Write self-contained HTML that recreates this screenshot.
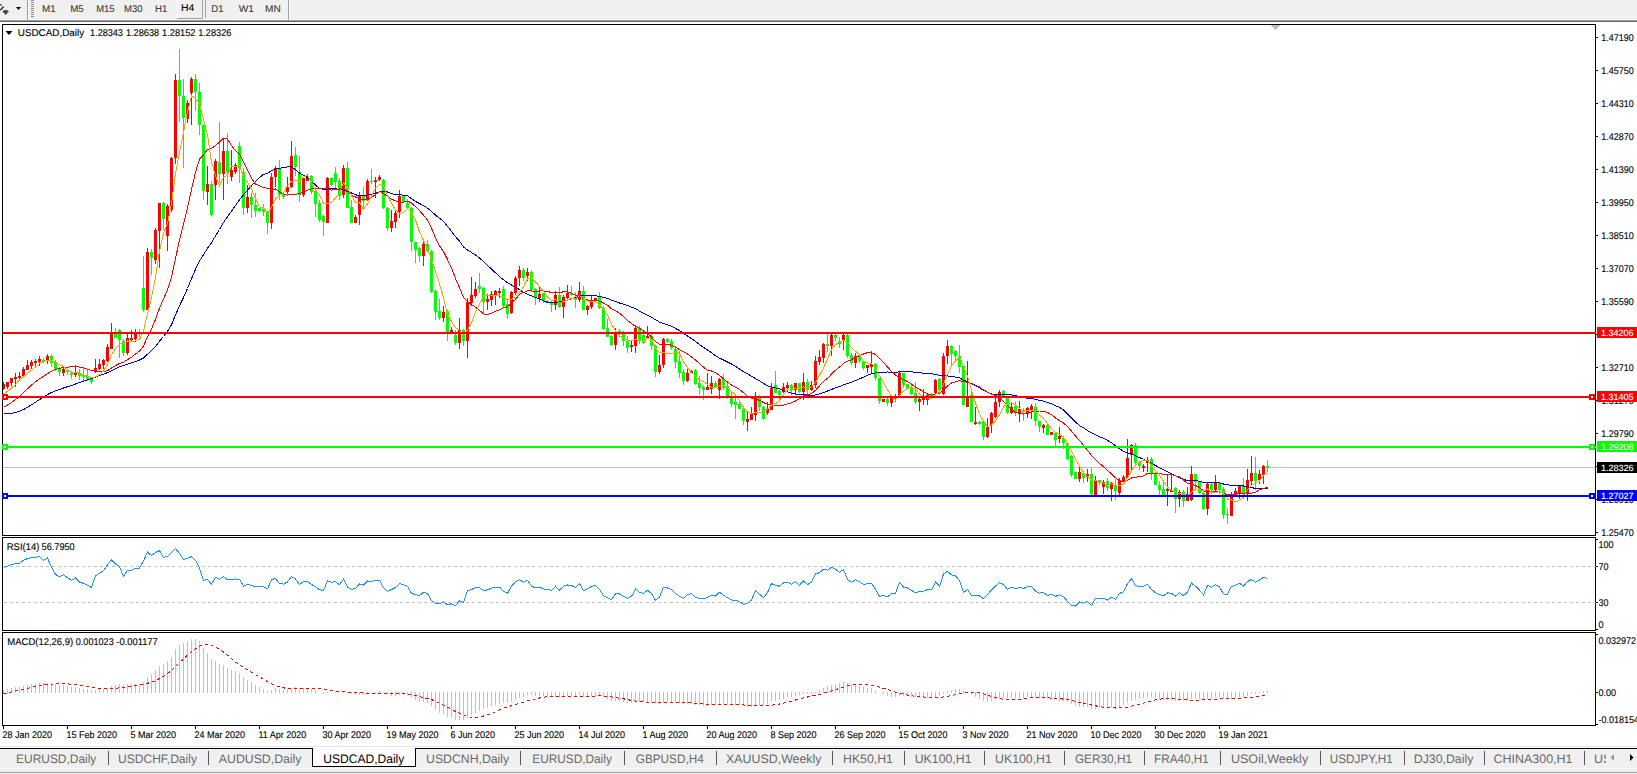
<!DOCTYPE html>
<html><head><meta charset="utf-8"><title>USDCAD,Daily</title>
<style>
html,body{margin:0;padding:0;background:#fff;overflow:hidden;width:1637px;height:774px}
svg{display:block}
text{font-family:"Liberation Sans", Arial, sans-serif;white-space:pre;text-rendering:geometricPrecision}
</style></head><body>
<svg width="1637" height="774" viewBox="0 0 1637 774" shape-rendering="crispEdges">
<rect x="0" y="0" width="1637" height="20" fill="#f0f0f0" />
<line x1="0" y1="19.5" x2="1637" y2="19.5" stroke="#f6f6f6" stroke-width="1" />
<line x1="0" y1="20.5" x2="1637" y2="20.5" stroke="#a0a0a0" stroke-width="1" />
<line x1="0" y1="21.5" x2="1637" y2="21.5" stroke="#646464" stroke-width="1" />
<line x1="27.5" y1="0" x2="27.5" y2="20" stroke="#a0a0a0" stroke-width="1" />
<line x1="28.5" y1="0" x2="28.5" y2="20" stroke="#ffffff" stroke-width="1" />
<line x1="31" y1="0.5" x2="34" y2="0.5" stroke="#8c8c8c" stroke-width="1" />
<line x1="31" y1="2.5" x2="34" y2="2.5" stroke="#8c8c8c" stroke-width="1" />
<line x1="31" y1="4.5" x2="34" y2="4.5" stroke="#8c8c8c" stroke-width="1" />
<line x1="31" y1="6.5" x2="34" y2="6.5" stroke="#8c8c8c" stroke-width="1" />
<line x1="31" y1="8.5" x2="34" y2="8.5" stroke="#8c8c8c" stroke-width="1" />
<line x1="31" y1="10.5" x2="34" y2="10.5" stroke="#8c8c8c" stroke-width="1" />
<line x1="31" y1="12.5" x2="34" y2="12.5" stroke="#8c8c8c" stroke-width="1" />
<line x1="31" y1="14.5" x2="34" y2="14.5" stroke="#8c8c8c" stroke-width="1" />
<line x1="31" y1="16.5" x2="34" y2="16.5" stroke="#8c8c8c" stroke-width="1" />
<g shape-rendering="auto">
<path d="M0 4 L1.6 4.2 L2 5.6 L0 5.6 Z" fill="#404040"/>
<path d="M3.6 6.4 L0.3 10.2" stroke="#404040" stroke-width="1.6" fill="none"/>
<path d="M2.3 11.2 L4.5 10.1 L6.8 10.1 L9 11.2 L5.6 15 Z" fill="#4a4a4a"/>
<path d="M16 7 L21 7 L18.5 10 Z" fill="#000"/>
</g>
<line x1="202.5" y1="0" x2="202.5" y2="19" stroke="#a0a0a0" stroke-width="1" />
<line x1="177" y1="18.5" x2="203" y2="18.5" stroke="#a0a0a0" stroke-width="1" />
<line x1="177.5" y1="0" x2="177.5" y2="18" stroke="#ffffff" stroke-width="1" />
<defs><pattern id="dith" width="2" height="2" patternUnits="userSpaceOnUse"><rect width="2" height="2" fill="#f7f7f7"/><rect width="1" height="1" fill="#e6e6e6"/><rect x="1" y="1" width="1" height="1" fill="#e6e6e6"/></pattern></defs>
<rect x="206" y="0" width="24" height="18" fill="url(#dith)" />
<line x1="205.5" y1="0" x2="205.5" y2="18" stroke="#a0a0a0" stroke-width="1" />
<line x1="288.5" y1="0" x2="288.5" y2="20" stroke="#a0a0a0" stroke-width="1" />
<line x1="289.5" y1="0" x2="289.5" y2="20" stroke="#ffffff" stroke-width="1" />
<text x="42.1" y="12" font-size="9.8" fill="#3c3c3c"  stroke="#3c3c3c" stroke-width="0.12" textLength="13.60" lengthAdjust="spacingAndGlyphs" >M1</text>
<text x="70.2" y="12" font-size="9.8" fill="#3c3c3c"  stroke="#3c3c3c" stroke-width="0.12" textLength="13.50" lengthAdjust="spacingAndGlyphs" >M5</text>
<text x="96.2" y="12" font-size="9.8" fill="#3c3c3c"  stroke="#3c3c3c" stroke-width="0.12" textLength="18.40" lengthAdjust="spacingAndGlyphs" >M15</text>
<text x="124.1" y="12" font-size="9.8" fill="#3c3c3c"  stroke="#3c3c3c" stroke-width="0.12" textLength="18.40" lengthAdjust="spacingAndGlyphs" >M30</text>
<text x="155.1" y="12" font-size="9.8" fill="#3c3c3c"  stroke="#3c3c3c" stroke-width="0.12" textLength="12.30" lengthAdjust="spacingAndGlyphs" >H1</text>
<text x="181.0" y="11" font-size="9.8" fill="#000"  stroke="#000" stroke-width="0.12" textLength="13.30" lengthAdjust="spacingAndGlyphs" >H4</text>
<text x="211.3" y="12" font-size="9.8" fill="#3c3c3c"  stroke="#3c3c3c" stroke-width="0.12" textLength="12.20" lengthAdjust="spacingAndGlyphs" >D1</text>
<text x="238.7" y="12" font-size="9.8" fill="#3c3c3c"  stroke="#3c3c3c" stroke-width="0.12" textLength="15.20" lengthAdjust="spacingAndGlyphs" >W1</text>
<text x="265.1" y="12" font-size="9.8" fill="#3c3c3c"  stroke="#3c3c3c" stroke-width="0.12" textLength="15.70" lengthAdjust="spacingAndGlyphs" >MN</text>
<rect x="2.5" y="24.5" width="1593" height="511" fill="none" stroke="#000" stroke-width="1"/>
<rect x="2.5" y="537.5" width="1593" height="93" fill="none" stroke="#000" stroke-width="1"/>
<rect x="2.5" y="632.5" width="1593" height="93" fill="none" stroke="#000" stroke-width="1"/>
<line x1="1596" y1="37.5" x2="1598" y2="37.5" stroke="#000" stroke-width="1" />
<text x="1601.3" y="41" font-size="9.8" fill="#000"  stroke="#000" stroke-width="0.12" textLength="32.40" lengthAdjust="spacingAndGlyphs" >1.47190</text>
<line x1="1596" y1="70.5" x2="1598" y2="70.5" stroke="#000" stroke-width="1" />
<text x="1601.3" y="74" font-size="9.8" fill="#000"  stroke="#000" stroke-width="0.12" textLength="32.40" lengthAdjust="spacingAndGlyphs" >1.45750</text>
<line x1="1596" y1="103.5" x2="1598" y2="103.5" stroke="#000" stroke-width="1" />
<text x="1601.3" y="107" font-size="9.8" fill="#000"  stroke="#000" stroke-width="0.12" textLength="32.40" lengthAdjust="spacingAndGlyphs" >1.44310</text>
<line x1="1596" y1="136.5" x2="1598" y2="136.5" stroke="#000" stroke-width="1" />
<text x="1601.3" y="140" font-size="9.8" fill="#000"  stroke="#000" stroke-width="0.12" textLength="32.40" lengthAdjust="spacingAndGlyphs" >1.42870</text>
<line x1="1596" y1="169.5" x2="1598" y2="169.5" stroke="#000" stroke-width="1" />
<text x="1601.3" y="173" font-size="9.8" fill="#000"  stroke="#000" stroke-width="0.12" textLength="32.40" lengthAdjust="spacingAndGlyphs" >1.41390</text>
<line x1="1596" y1="202.5" x2="1598" y2="202.5" stroke="#000" stroke-width="1" />
<text x="1601.3" y="206" font-size="9.8" fill="#000"  stroke="#000" stroke-width="0.12" textLength="32.40" lengthAdjust="spacingAndGlyphs" >1.39950</text>
<line x1="1596" y1="235.5" x2="1598" y2="235.5" stroke="#000" stroke-width="1" />
<text x="1601.3" y="239" font-size="9.8" fill="#000"  stroke="#000" stroke-width="0.12" textLength="32.40" lengthAdjust="spacingAndGlyphs" >1.38510</text>
<line x1="1596" y1="268.5" x2="1598" y2="268.5" stroke="#000" stroke-width="1" />
<text x="1601.3" y="272" font-size="9.8" fill="#000"  stroke="#000" stroke-width="0.12" textLength="32.40" lengthAdjust="spacingAndGlyphs" >1.37070</text>
<line x1="1596" y1="301.5" x2="1598" y2="301.5" stroke="#000" stroke-width="1" />
<text x="1601.3" y="305" font-size="9.8" fill="#000"  stroke="#000" stroke-width="0.12" textLength="32.40" lengthAdjust="spacingAndGlyphs" >1.35590</text>
<line x1="1596" y1="334.5" x2="1598" y2="334.5" stroke="#000" stroke-width="1" />
<text x="1601.3" y="338" font-size="9.8" fill="#000"  stroke="#000" stroke-width="0.12" textLength="32.40" lengthAdjust="spacingAndGlyphs" >1.34150</text>
<line x1="1596" y1="367.5" x2="1598" y2="367.5" stroke="#000" stroke-width="1" />
<text x="1601.3" y="371" font-size="9.8" fill="#000"  stroke="#000" stroke-width="0.12" textLength="32.40" lengthAdjust="spacingAndGlyphs" >1.32710</text>
<line x1="1596" y1="400.5" x2="1598" y2="400.5" stroke="#000" stroke-width="1" />
<text x="1601.3" y="404" font-size="9.8" fill="#000"  stroke="#000" stroke-width="0.12" textLength="32.40" lengthAdjust="spacingAndGlyphs" >1.31270</text>
<line x1="1596" y1="433.5" x2="1598" y2="433.5" stroke="#000" stroke-width="1" />
<text x="1601.3" y="437" font-size="9.8" fill="#000"  stroke="#000" stroke-width="0.12" textLength="32.40" lengthAdjust="spacingAndGlyphs" >1.29790</text>
<line x1="1596" y1="466.5" x2="1598" y2="466.5" stroke="#000" stroke-width="1" />
<text x="1601.3" y="470" font-size="9.8" fill="#000"  stroke="#000" stroke-width="0.12" textLength="32.40" lengthAdjust="spacingAndGlyphs" >1.28350</text>
<line x1="1596" y1="499.5" x2="1598" y2="499.5" stroke="#000" stroke-width="1" />
<text x="1601.3" y="503" font-size="9.8" fill="#000"  stroke="#000" stroke-width="0.12" textLength="32.40" lengthAdjust="spacingAndGlyphs" >1.26910</text>
<line x1="1596" y1="532.5" x2="1598" y2="532.5" stroke="#000" stroke-width="1" />
<text x="1601.3" y="536" font-size="9.8" fill="#000"  stroke="#000" stroke-width="0.12" textLength="32.40" lengthAdjust="spacingAndGlyphs" >1.25470</text>
<line x1="3.5" y1="726" x2="3.5" y2="729" stroke="#000" stroke-width="1" />
<text x="2.5" y="738" font-size="9.8" fill="#000"  stroke="#000" stroke-width="0.12" textLength="49.54" lengthAdjust="spacingAndGlyphs" >28 Jan 2020</text>
<line x1="67.5" y1="726" x2="67.5" y2="729" stroke="#000" stroke-width="1" />
<text x="66.5" y="738" font-size="9.8" fill="#000"  stroke="#000" stroke-width="0.12" textLength="50.53" lengthAdjust="spacingAndGlyphs" >15 Feb 2020</text>
<line x1="131.5" y1="726" x2="131.5" y2="729" stroke="#000" stroke-width="1" />
<text x="130.5" y="738" font-size="9.8" fill="#000"  stroke="#000" stroke-width="0.12" textLength="45.52" lengthAdjust="spacingAndGlyphs" >5 Mar 2020</text>
<line x1="195.5" y1="726" x2="195.5" y2="729" stroke="#000" stroke-width="1" />
<text x="194.5" y="738" font-size="9.8" fill="#000"  stroke="#000" stroke-width="0.12" textLength="50.53" lengthAdjust="spacingAndGlyphs" >24 Mar 2020</text>
<line x1="259.5" y1="726" x2="259.5" y2="729" stroke="#000" stroke-width="1" />
<text x="258.5" y="738" font-size="9.8" fill="#000"  stroke="#000" stroke-width="0.12" textLength="47.87" lengthAdjust="spacingAndGlyphs" >11 Apr 2020</text>
<line x1="323.5" y1="726" x2="323.5" y2="729" stroke="#000" stroke-width="1" />
<text x="322.5" y="738" font-size="9.8" fill="#000"  stroke="#000" stroke-width="0.12" textLength="48.54" lengthAdjust="spacingAndGlyphs" >30 Apr 2020</text>
<line x1="387.5" y1="726" x2="387.5" y2="729" stroke="#000" stroke-width="1" />
<text x="386.5" y="738" font-size="9.8" fill="#000"  stroke="#000" stroke-width="0.12" textLength="52.03" lengthAdjust="spacingAndGlyphs" >19 May 2020</text>
<line x1="451.5" y1="726" x2="451.5" y2="729" stroke="#000" stroke-width="1" />
<text x="450.5" y="738" font-size="9.8" fill="#000"  stroke="#000" stroke-width="0.12" textLength="44.53" lengthAdjust="spacingAndGlyphs" >6 Jun 2020</text>
<line x1="515.5" y1="726" x2="515.5" y2="729" stroke="#000" stroke-width="1" />
<text x="514.5" y="738" font-size="9.8" fill="#000"  stroke="#000" stroke-width="0.12" textLength="49.54" lengthAdjust="spacingAndGlyphs" >25 Jun 2020</text>
<line x1="579.5" y1="726" x2="579.5" y2="729" stroke="#000" stroke-width="1" />
<text x="578.5" y="738" font-size="9.8" fill="#000"  stroke="#000" stroke-width="0.12" textLength="46.53" lengthAdjust="spacingAndGlyphs" >14 Jul 2020</text>
<line x1="643.5" y1="726" x2="643.5" y2="729" stroke="#000" stroke-width="1" />
<text x="642.5" y="738" font-size="9.8" fill="#000"  stroke="#000" stroke-width="0.12" textLength="45.54" lengthAdjust="spacingAndGlyphs" >1 Aug 2020</text>
<line x1="707.5" y1="726" x2="707.5" y2="729" stroke="#000" stroke-width="1" />
<text x="706.5" y="738" font-size="9.8" fill="#000"  stroke="#000" stroke-width="0.12" textLength="50.54" lengthAdjust="spacingAndGlyphs" >20 Aug 2020</text>
<line x1="771.5" y1="726" x2="771.5" y2="729" stroke="#000" stroke-width="1" />
<text x="770.5" y="738" font-size="9.8" fill="#000"  stroke="#000" stroke-width="0.12" textLength="46.04" lengthAdjust="spacingAndGlyphs" >8 Sep 2020</text>
<line x1="835.5" y1="726" x2="835.5" y2="729" stroke="#000" stroke-width="1" />
<text x="834.5" y="738" font-size="9.8" fill="#000"  stroke="#000" stroke-width="0.12" textLength="51.04" lengthAdjust="spacingAndGlyphs" >26 Sep 2020</text>
<line x1="899.5" y1="726" x2="899.5" y2="729" stroke="#000" stroke-width="1" />
<text x="898.5" y="738" font-size="9.8" fill="#000"  stroke="#000" stroke-width="0.12" textLength="49.03" lengthAdjust="spacingAndGlyphs" >15 Oct 2020</text>
<line x1="963.5" y1="726" x2="963.5" y2="729" stroke="#000" stroke-width="1" />
<text x="962.5" y="738" font-size="9.8" fill="#000"  stroke="#000" stroke-width="0.12" textLength="46.03" lengthAdjust="spacingAndGlyphs" >3 Nov 2020</text>
<line x1="1027.5" y1="726" x2="1027.5" y2="729" stroke="#000" stroke-width="1" />
<text x="1026.5" y="738" font-size="9.8" fill="#000"  stroke="#000" stroke-width="0.12" textLength="51.03" lengthAdjust="spacingAndGlyphs" >21 Nov 2020</text>
<line x1="1091.5" y1="726" x2="1091.5" y2="729" stroke="#000" stroke-width="1" />
<text x="1090.5" y="738" font-size="9.8" fill="#000"  stroke="#000" stroke-width="0.12" textLength="51.03" lengthAdjust="spacingAndGlyphs" >10 Dec 2020</text>
<line x1="1155.5" y1="726" x2="1155.5" y2="729" stroke="#000" stroke-width="1" />
<text x="1154.5" y="738" font-size="9.8" fill="#000"  stroke="#000" stroke-width="0.12" textLength="51.03" lengthAdjust="spacingAndGlyphs" >30 Dec 2020</text>
<line x1="1219.5" y1="726" x2="1219.5" y2="729" stroke="#000" stroke-width="1" />
<text x="1218.5" y="738" font-size="9.8" fill="#000"  stroke="#000" stroke-width="0.12" textLength="49.54" lengthAdjust="spacingAndGlyphs" >19 Jan 2021</text>
<line x1="1596" y1="539.5" x2="1598" y2="539.5" stroke="#000" stroke-width="1" />
<text x="1598.5" y="548" font-size="9.8" fill="#000"  stroke="#000" stroke-width="0.12" textLength="15.01" lengthAdjust="spacingAndGlyphs" >100</text>
<line x1="4" y1="566.5" x2="1596" y2="566.5" stroke="#c0c0c0" stroke-width="1" stroke-dasharray="3,3"/>
<line x1="1596" y1="566.5" x2="1598" y2="566.5" stroke="#000" stroke-width="1" />
<text x="1598.5" y="570" font-size="9.8" fill="#000"  stroke="#000" stroke-width="0.12" textLength="10.01" lengthAdjust="spacingAndGlyphs" >70</text>
<line x1="4" y1="602.5" x2="1596" y2="602.5" stroke="#c0c0c0" stroke-width="1" stroke-dasharray="3,3"/>
<line x1="1596" y1="602.5" x2="1598" y2="602.5" stroke="#000" stroke-width="1" />
<text x="1598.5" y="606" font-size="9.8" fill="#000"  stroke="#000" stroke-width="0.12" textLength="10.01" lengthAdjust="spacingAndGlyphs" >30</text>
<line x1="1596" y1="629.5" x2="1598" y2="629.5" stroke="#000" stroke-width="1" />
<text x="1598.5" y="627.5" font-size="9.8" fill="#000"  stroke="#000" stroke-width="0.12" textLength="5.00" lengthAdjust="spacingAndGlyphs" >0</text>
<line x1="1596" y1="634.5" x2="1598" y2="634.5" stroke="#000" stroke-width="1" />
<text x="1598.5" y="643.5" font-size="9.8" fill="#000"  stroke="#000" stroke-width="0.12" textLength="37.53" lengthAdjust="spacingAndGlyphs" >0.032972</text>
<line x1="1596" y1="692.5" x2="1598" y2="692.5" stroke="#000" stroke-width="1" />
<text x="1598.5" y="696" font-size="9.8" fill="#000"  stroke="#000" stroke-width="0.12" textLength="17.51" lengthAdjust="spacingAndGlyphs" >0.00</text>
<line x1="1596" y1="724.5" x2="1598" y2="724.5" stroke="#000" stroke-width="1" />
<text x="1598.5" y="722.5" font-size="9.8" fill="#000"  stroke="#000" stroke-width="0.12" textLength="40.53" lengthAdjust="spacingAndGlyphs" >-0.018154</text>
<path d="M5.5 31 L12.5 31 L9 35 Z" fill="#000" shape-rendering="auto"/>
<text x="17.8" y="36" font-size="9.8" fill="#000"  stroke="#000" stroke-width="0.12" textLength="66.30" lengthAdjust="spacingAndGlyphs" >USDCAD,Daily</text>
<text x="90.1" y="36" font-size="9.8" fill="#000"  stroke="#000" stroke-width="0.12" textLength="32.80" lengthAdjust="spacingAndGlyphs" >1.28343</text>
<text x="125.9" y="36" font-size="9.8" fill="#000"  stroke="#000" stroke-width="0.12" textLength="33.30" lengthAdjust="spacingAndGlyphs" >1.28638</text>
<text x="162.0" y="36" font-size="9.8" fill="#000"  stroke="#000" stroke-width="0.12" textLength="33.50" lengthAdjust="spacingAndGlyphs" >1.28152</text>
<text x="198.2" y="36" font-size="9.8" fill="#000"  stroke="#000" stroke-width="0.12" textLength="33.30" lengthAdjust="spacingAndGlyphs" >1.28326</text>
<text x="6.8" y="550" font-size="9.8" fill="#000"  stroke="#000" stroke-width="0.12" textLength="32.50" lengthAdjust="spacingAndGlyphs" >RSI(14)</text>
<text x="41.6" y="550" font-size="9.8" fill="#000"  stroke="#000" stroke-width="0.12" textLength="33.10" lengthAdjust="spacingAndGlyphs" >56.7950</text>
<text x="7.3" y="645" font-size="9.8" fill="#000"  stroke="#000" stroke-width="0.12" textLength="65.90" lengthAdjust="spacingAndGlyphs" >MACD(12,26,9)</text>
<text x="75.8" y="645" font-size="9.8" fill="#000"  stroke="#000" stroke-width="0.12" textLength="37.90" lengthAdjust="spacingAndGlyphs" >0.001023</text>
<text x="116.3" y="645" font-size="9.8" fill="#000"  stroke="#000" stroke-width="0.12" textLength="41.50" lengthAdjust="spacingAndGlyphs" >-0.001177</text>
<line x1="0" y1="746.5" x2="1637" y2="746.5" stroke="#e3e3e3" stroke-width="1" />
<rect x="0" y="749" width="1637" height="19" fill="#f0f0f0" />
<line x1="0" y1="748.5" x2="1637" y2="748.5" stroke="#000" stroke-width="1" />
<line x1="0" y1="768.5" x2="1637" y2="768.5" stroke="#fafafa" stroke-width="1" />
<rect x="0" y="769" width="1637" height="3" fill="#f0f0f0" />
<line x1="0" y1="772.5" x2="1637" y2="772.5" stroke="#a0a0a0" stroke-width="1" />
<line x1="0" y1="773.5" x2="1637" y2="773.5" stroke="#f0f0f0" stroke-width="1" />
<rect x="313" y="748" width="102" height="18" fill="#ffffff" />
<line x1="312.5" y1="748" x2="312.5" y2="767" stroke="#000" stroke-width="1" />
<line x1="415.5" y1="748" x2="415.5" y2="767" stroke="#000" stroke-width="1" />
<line x1="312" y1="766.5" x2="416" y2="766.5" stroke="#000" stroke-width="1" />
<text x="16.1" y="763" font-size="12.4" fill="#696969"  textLength="80.20" lengthAdjust="spacingAndGlyphs" >EURUSD,Daily</text>
<text x="118.1" y="763" font-size="12.4" fill="#696969"  textLength="78.80" lengthAdjust="spacingAndGlyphs" >USDCHF,Daily</text>
<text x="218.8" y="763" font-size="12.4" fill="#696969"  textLength="82.70" lengthAdjust="spacingAndGlyphs" >AUDUSD,Daily</text>
<text x="323.3" y="763" font-size="12.4" fill="#000"  textLength="81.00" lengthAdjust="spacingAndGlyphs" >USDCAD,Daily</text>
<text x="426.1" y="763" font-size="12.4" fill="#696969"  textLength="83.10" lengthAdjust="spacingAndGlyphs" >USDCNH,Daily</text>
<text x="532.3" y="763" font-size="12.4" fill="#696969"  textLength="79.50" lengthAdjust="spacingAndGlyphs" >EURUSD,Daily</text>
<text x="635.8" y="763" font-size="12.4" fill="#696969"  textLength="67.90" lengthAdjust="spacingAndGlyphs" >GBPUSD,H4</text>
<text x="726.1" y="763" font-size="12.4" fill="#696969"  textLength="95.40" lengthAdjust="spacingAndGlyphs" >XAUUSD,Weekly</text>
<text x="843.0" y="763" font-size="12.4" fill="#696969"  textLength="49.90" lengthAdjust="spacingAndGlyphs" >HK50,H1</text>
<text x="914.7" y="763" font-size="12.4" fill="#696969"  textLength="56.80" lengthAdjust="spacingAndGlyphs" >UK100,H1</text>
<text x="995.1" y="763" font-size="12.4" fill="#696969"  textLength="56.70" lengthAdjust="spacingAndGlyphs" >UK100,H1</text>
<text x="1074.9" y="763" font-size="12.4" fill="#696969"  textLength="57.10" lengthAdjust="spacingAndGlyphs" >GER30,H1</text>
<text x="1154.0" y="763" font-size="12.4" fill="#696969"  textLength="54.80" lengthAdjust="spacingAndGlyphs" >FRA40,H1</text>
<text x="1230.9" y="763" font-size="12.4" fill="#696969"  textLength="77.30" lengthAdjust="spacingAndGlyphs" >USOil,Weekly</text>
<text x="1329.8" y="763" font-size="12.4" fill="#696969"  textLength="63.00" lengthAdjust="spacingAndGlyphs" >USDJPY,H1</text>
<text x="1413.8" y="763" font-size="12.4" fill="#696969"  textLength="59.50" lengthAdjust="spacingAndGlyphs" >DJ30,Daily</text>
<text x="1493.5" y="763" font-size="12.4" fill="#696969"  textLength="79.00" lengthAdjust="spacingAndGlyphs" >CHINA300,H1</text>
<line x1="108.5" y1="751" x2="108.5" y2="765" stroke="#5a5a5a" stroke-width="1" />
<line x1="208.5" y1="751" x2="208.5" y2="765" stroke="#5a5a5a" stroke-width="1" />
<line x1="520.5" y1="751" x2="520.5" y2="765" stroke="#5a5a5a" stroke-width="1" />
<line x1="624.5" y1="751" x2="624.5" y2="765" stroke="#5a5a5a" stroke-width="1" />
<line x1="716.5" y1="751" x2="716.5" y2="765" stroke="#5a5a5a" stroke-width="1" />
<line x1="832.5" y1="751" x2="832.5" y2="765" stroke="#5a5a5a" stroke-width="1" />
<line x1="904.5" y1="751" x2="904.5" y2="765" stroke="#5a5a5a" stroke-width="1" />
<line x1="984.5" y1="751" x2="984.5" y2="765" stroke="#5a5a5a" stroke-width="1" />
<line x1="1064.5" y1="751" x2="1064.5" y2="765" stroke="#5a5a5a" stroke-width="1" />
<line x1="1144.5" y1="751" x2="1144.5" y2="765" stroke="#5a5a5a" stroke-width="1" />
<line x1="1220.5" y1="751" x2="1220.5" y2="765" stroke="#5a5a5a" stroke-width="1" />
<line x1="1320.5" y1="751" x2="1320.5" y2="765" stroke="#5a5a5a" stroke-width="1" />
<line x1="1404.5" y1="751" x2="1404.5" y2="765" stroke="#5a5a5a" stroke-width="1" />
<line x1="1484.5" y1="751" x2="1484.5" y2="765" stroke="#5a5a5a" stroke-width="1" />
<line x1="1584.5" y1="751" x2="1584.5" y2="765" stroke="#5a5a5a" stroke-width="1" />
<svg x="1594" y="749" width="12" height="18"><text x="0" y="14" font-size="12.4" fill="#696969">US</text></svg>
<path d="M1614 754 L1610.5 757.5 L1614 761 Z" fill="#9a9a9a" shape-rendering="auto"/>
<path d="M1630 754 L1633.5 757.5 L1630 761 Z" fill="#000" shape-rendering="auto"/>
<rect x="1271" y="25" width="9" height="1" fill="#c0c0c0" />
<rect x="1272" y="26" width="7" height="1" fill="#c0c0c0" />
<rect x="1273" y="27" width="5" height="1" fill="#c0c0c0" />
<rect x="1274" y="28" width="3" height="1" fill="#c0c0c0" />
<rect x="1275" y="29" width="1" height="1" fill="#c0c0c0" />
<defs><clipPath id="cm"><rect x="3" y="25" width="1592" height="510"/></clipPath><clipPath id="cr"><rect x="3" y="538" width="1592" height="92"/></clipPath><clipPath id="cd"><rect x="3" y="633" width="1592" height="92"/></clipPath></defs>
<line x1="3" y1="467.5" x2="1595" y2="467.5" stroke="#c0c0c0" stroke-width="1" />
<g clip-path="url(#cm)">
<path d="M3 382h1v8h-1z M2 384h3v5h-3z M7 382h1v7h-1z M6 382h3v5h-3z M11 378h1v8h-1z M10 378h3v5h-3z M15 373h1v14h-1z M14 377h3v2h-3z M19 372h1v8h-1z M18 376h3v2h-3z M23 367h1v10h-1z M22 369h3v7h-3z M27 360h1v10h-1z M26 365h3v5h-3z M31 360h1v9h-1z M30 362h3v4h-3z M35 359h1v8h-1z M34 361h3v2h-3z M39 356h1v10h-1z M38 359h3v3h-3z M47 354h1v10h-1z M46 356h3v4h-3z M63 367h1v9h-1z M62 369h3v4h-3z M75 365h1v12h-1z M74 372h3v3h-3z M95 359h1v14h-1z M94 368h3v4h-3z M99 359h1v11h-1z M98 364h3v5h-3z M103 359h1v10h-1z M102 360h3v5h-3z M107 344h1v18h-1z M106 347h3v14h-3z M111 323h1v26h-1z M110 333h3v16h-3z M127 333h1v22h-1z M126 338h3v15h-3z M131 330h1v12h-1z M130 338h3v2h-3z M135 329h1v13h-1z M134 333h3v6h-3z M147 248h1v62h-1z M146 252h3v58h-3z M155 228h1v36h-1z M154 230h3v30h-3z M159 203h1v65h-1z M158 203h3v28h-3z M167 204h1v47h-1z M166 206h3v30h-3z M171 157h1v55h-1z M170 158h3v52h-3z M175 74h1v90h-1z M174 80h3v78h-3z M187 100h1v23h-1z M186 103h3v16h-3z M191 77h1v48h-1z M190 79h3v14h-3z M207 166h1v39h-1z M206 184h3v8h-3z M215 159h1v41h-1z M214 161h3v24h-3z M223 139h1v61h-1z M222 151h3v23h-3z M231 150h1v31h-1z M230 170h3v7h-3z M235 163h1v11h-1z M234 165h3v7h-3z M247 185h1v28h-1z M246 197h3v11h-3z M271 173h1v56h-1z M270 177h3v46h-3z M275 166h1v21h-1z M274 168h3v9h-3z M287 177h1v17h-1z M286 187h3v5h-3z M291 141h1v47h-1z M290 156h3v31h-3z M303 177h1v20h-1z M302 178h3v17h-3z M307 174h1v7h-1z M306 177h3v4h-3z M327 177h1v46h-1z M326 178h3v45h-3z M343 165h1v33h-1z M342 168h3v27h-3z M355 215h1v8h-1z M354 217h3v6h-3z M359 192h1v33h-1z M358 196h3v19h-3z M367 179h1v22h-1z M366 181h3v19h-3z M375 177h1v21h-1z M374 180h3v2h-3z M379 175h1v6h-1z M378 177h3v3h-3z M391 210h1v22h-1z M390 221h3v7h-3z M395 209h1v19h-1z M394 213h3v9h-3z M399 190h1v28h-1z M398 196h3v16h-3z M423 242h1v24h-1z M422 244h3v12h-3z M443 306h1v16h-1z M442 312h3v6h-3z M451 327h1v7h-1z M450 330h3v3h-3z M459 318h1v31h-1z M458 330h3v13h-3z M467 298h1v60h-1z M466 302h3v39h-3z M471 277h1v29h-1z M470 295h3v8h-3z M475 282h1v16h-1z M474 289h3v7h-3z M487 294h1v16h-1z M486 299h3v3h-3z M491 291h1v15h-1z M490 294h3v6h-3z M495 290h1v15h-1z M494 291h3v4h-3z M499 288h1v10h-1z M498 291h3v2h-3z M511 291h1v23h-1z M510 292h3v21h-3z M515 276h1v19h-1z M514 278h3v15h-3z M519 266h1v20h-1z M518 270h3v8h-3z M527 268h1v13h-1z M526 272h3v4h-3z M539 287h1v15h-1z M538 294h3v4h-3z M555 291h1v19h-1z M554 295h3v10h-3z M563 295h1v23h-1z M562 297h3v10h-3z M567 285h1v16h-1z M566 293h3v5h-3z M579 282h1v20h-1z M578 291h3v9h-3z M587 305h1v10h-1z M586 306h3v4h-3z M591 296h1v13h-1z M590 301h3v6h-3z M595 298h1v4h-1z M594 298h3v3h-3z M615 328h1v22h-1z M614 332h3v13h-3z M631 341h1v11h-1z M630 345h3v2h-3z M635 325h1v28h-1z M634 328h3v18h-3z M647 326h1v12h-1z M646 336h3v2h-3z M659 355h1v19h-1z M658 365h3v7h-3z M663 338h1v30h-1z M662 339h3v26h-3z M687 368h1v14h-1z M686 373h3v8h-3z M691 370h1v3h-1z M690 371h3v2h-3z M707 373h1v17h-1z M706 387h3v3h-3z M711 376h1v18h-1z M710 383h3v6h-3z M719 378h1v21h-1z M718 379h3v11h-3z M747 412h1v19h-1z M746 419h3v3h-3z M751 407h1v13h-1z M750 414h3v6h-3z M755 392h1v29h-1z M754 398h3v17h-3z M767 402h1v13h-1z M766 409h3v4h-3z M771 383h1v27h-1z M770 388h3v22h-3z M783 383h1v10h-1z M782 387h3v5h-3z M787 382h1v8h-1z M786 385h3v3h-3z M795 383h1v12h-1z M794 383h3v7h-3z M803 373h1v27h-1z M802 382h3v10h-3z M811 381h1v10h-1z M810 385h3v5h-3z M815 356h1v32h-1z M814 361h3v24h-3z M819 350h1v15h-1z M818 357h3v5h-3z M823 343h1v20h-1z M822 344h3v14h-3z M831 334h1v22h-1z M830 335h3v11h-3z M843 334h1v16h-1z M842 335h3v5h-3z M855 353h1v15h-1z M854 356h3v7h-3z M867 365h1v8h-1z M866 365h3v3h-3z M871 351h1v22h-1z M870 364h3v3h-3z M883 399h1v3h-1z M882 399h3v3h-3z M891 396h1v11h-1z M890 397h3v6h-3z M895 394h1v8h-1z M894 396h3v2h-3z M899 371h1v25h-1z M898 373h3v22h-3z M919 396h1v15h-1z M918 399h3v3h-3z M923 389h1v16h-1z M922 398h3v2h-3z M927 393h1v12h-1z M926 395h3v5h-3z M935 379h1v15h-1z M934 380h3v13h-3z M943 353h1v42h-1z M942 356h3v38h-3z M947 340h1v24h-1z M946 346h3v10h-3z M967 361h1v46h-1z M966 397h3v10h-3z M975 407h1v18h-1z M974 422h3v2h-3z M987 418h1v20h-1z M986 427h3v10h-3z M991 412h1v21h-1z M990 413h3v12h-3z M995 398h1v20h-1z M994 402h3v15h-3z M999 390h1v17h-1z M998 392h3v10h-3z M1011 403h1v11h-1z M1010 407h3v6h-3z M1019 401h1v21h-1z M1018 409h3v5h-3z M1027 407h1v11h-1z M1026 408h3v6h-3z M1031 404h1v15h-1z M1030 406h3v4h-3z M1043 424h1v9h-1z M1042 425h3v3h-3z M1051 432h1v3h-1z M1050 432h3v3h-3z M1059 427h1v16h-1z M1058 436h3v3h-3z M1079 467h1v15h-1z M1078 472h3v7h-3z M1087 469h1v13h-1z M1086 474h3v3h-3z M1095 476h1v19h-1z M1094 480h3v15h-3z M1103 480h1v14h-1z M1102 482h3v5h-3z M1111 482h1v19h-1z M1110 483h3v6h-3z M1119 478h1v17h-1z M1118 480h3v13h-3z M1123 475h1v6h-1z M1122 477h3v4h-3z M1127 439h1v39h-1z M1126 458h3v20h-3z M1131 444h1v26h-1z M1130 445h3v10h-3z M1143 464h1v8h-1z M1142 466h3v2h-3z M1147 457h1v15h-1z M1146 460h3v3h-3z M1167 474h1v32h-1z M1166 489h3v2h-3z M1171 475h1v17h-1z M1170 490h3v2h-3z M1179 490h1v17h-1z M1178 492h3v7h-3z M1187 487h1v14h-1z M1186 494h3v7h-3z M1191 466h1v35h-1z M1190 474h3v26h-3z M1207 483h1v32h-1z M1206 484h3v25h-3z M1215 475h1v16h-1z M1214 483h3v7h-3z M1231 492h1v24h-1z M1230 494h3v22h-3z M1235 488h1v8h-1z M1234 491h3v3h-3z M1239 485h1v14h-1z M1238 486h3v8h-3z M1247 469h1v32h-1z M1246 480h3v14h-3z M1251 456h1v29h-1z M1250 473h3v8h-3z M1259 470h1v14h-1z M1258 474h3v6h-3z M1263 465h1v19h-1z M1262 466h3v9h-3z" fill="#ff0000"/>
<path d="M43 358h1v5h-1z M42 360h3v2h-3z M51 354h1v13h-1z M50 356h3v7h-3z M55 360h1v11h-1z M54 362h3v7h-3z M59 367h1v9h-1z M58 369h3v3h-3z M67 369h1v6h-1z M66 370h3v2h-3z M71 371h1v8h-1z M70 373h3v2h-3z M79 369h1v11h-1z M78 373h3v3h-3z M83 368h1v13h-1z M82 375h3v2h-3z M87 369h1v12h-1z M86 376h3v3h-3z M91 378h1v6h-1z M90 379h3v3h-3z M115 328h1v10h-1z M114 333h3v5h-3z M119 329h1v29h-1z M118 330h3v10h-3z M123 339h1v17h-1z M122 341h3v12h-3z M139 329h1v8h-1z M138 332h3v1h-3z M143 256h1v56h-1z M142 288h3v22h-3z M151 249h1v26h-1z M150 252h3v6h-3z M163 202h1v28h-1z M162 203h3v16h-3z M179 49h1v73h-1z M178 80h3v16h-3z M183 79h1v89h-1z M182 96h3v22h-3z M195 74h1v37h-1z M194 79h3v13h-3z M199 83h1v52h-1z M198 92h3v33h-3z M203 125h1v75h-1z M202 125h3v66h-3z M211 181h1v35h-1z M210 184h3v31h-3z M219 122h1v60h-1z M218 162h3v12h-3z M227 133h1v51h-1z M226 151h3v21h-3z M239 142h1v41h-1z M238 146h3v22h-3z M243 168h1v47h-1z M242 172h3v36h-3z M251 193h1v25h-1z M250 197h3v8h-3z M255 193h1v24h-1z M254 205h3v6h-3z M259 208h1v4h-1z M258 208h3v3h-3z M263 204h1v12h-1z M262 209h3v3h-3z M267 211h1v23h-1z M266 212h3v11h-3z M279 160h1v40h-1z M278 168h3v27h-3z M283 193h1v6h-1z M282 194h3v3h-3z M295 147h1v29h-1z M294 155h3v12h-3z M299 156h1v46h-1z M298 172h3v23h-3z M311 175h1v19h-1z M310 176h3v16h-3z M315 188h1v29h-1z M314 191h3v13h-3z M319 200h1v22h-1z M318 203h3v17h-3z M323 215h1v21h-1z M322 216h3v6h-3z M331 177h1v9h-1z M330 178h3v7h-3z M335 167h1v23h-1z M334 173h3v9h-3z M339 178h1v22h-1z M338 181h3v15h-3z M347 162h1v46h-1z M346 168h3v40h-3z M351 200h1v23h-1z M350 207h3v16h-3z M363 187h1v21h-1z M362 196h3v5h-3z M371 169h1v15h-1z M370 181h3v1h-3z M383 179h1v30h-1z M382 180h3v28h-3z M387 207h1v24h-1z M386 208h3v20h-3z M403 196h1v7h-1z M402 196h3v6h-3z M407 199h1v10h-1z M406 203h3v5h-3z M411 207h1v44h-1z M410 208h3v34h-3z M415 242h1v21h-1z M414 242h3v8h-3z M419 247h1v15h-1z M418 248h3v8h-3z M427 240h1v12h-1z M426 244h3v7h-3z M431 250h1v43h-1z M430 251h3v41h-3z M435 290h1v30h-1z M434 291h3v21h-3z M439 299h1v21h-1z M438 311h3v7h-3z M447 310h1v31h-1z M446 311h3v21h-3z M455 330h1v15h-1z M454 335h3v8h-3z M463 329h1v17h-1z M462 330h3v11h-3z M479 273h1v20h-1z M478 286h3v3h-3z M483 287h1v27h-1z M482 288h3v14h-3z M503 286h1v21h-1z M502 289h3v17h-3z M507 299h1v20h-1z M506 304h3v10h-3z M523 268h1v13h-1z M522 270h3v8h-3z M531 270h1v22h-1z M530 272h3v18h-3z M535 288h1v17h-1z M534 289h3v8h-3z M543 293h1v10h-1z M542 293h3v8h-3z M547 300h1v3h-1z M546 301h3v1h-3z M551 301h1v11h-1z M550 303h3v2h-3z M559 287h1v21h-1z M558 295h3v12h-3z M571 286h1v10h-1z M570 293h3v2h-3z M575 292h1v16h-1z M574 297h3v3h-3z M583 286h1v24h-1z M582 291h3v19h-3z M599 292h1v17h-1z M598 296h3v12h-3z M603 306h1v24h-1z M602 308h3v21h-3z M607 319h1v18h-1z M606 328h3v9h-3z M611 335h1v11h-1z M610 336h3v9h-3z M619 329h1v8h-1z M618 331h3v2h-3z M623 331h1v15h-1z M622 334h3v7h-3z M627 336h1v17h-1z M626 341h3v7h-3z M639 326h1v18h-1z M638 328h3v12h-3z M643 333h1v11h-1z M642 335h3v8h-3z M651 334h1v16h-1z M650 336h3v10h-3z M655 345h1v32h-1z M654 346h3v26h-3z M667 338h1v5h-1z M666 339h3v3h-3z M671 339h1v11h-1z M670 341h3v7h-3z M675 346h1v22h-1z M674 349h3v13h-3z M679 351h1v27h-1z M678 361h3v12h-3z M683 369h1v16h-1z M682 372h3v9h-3z M695 369h1v16h-1z M694 370h3v14h-3z M699 376h1v19h-1z M698 383h3v5h-3z M703 385h1v15h-1z M702 387h3v3h-3z M715 381h1v7h-1z M714 383h3v4h-3z M723 374h1v16h-1z M722 379h3v9h-3z M727 383h1v16h-1z M726 386h3v10h-3z M731 391h1v16h-1z M730 398h3v6h-3z M735 397h1v22h-1z M734 402h3v3h-3z M739 400h1v9h-1z M738 404h3v5h-3z M743 407h1v18h-1z M742 409h3v12h-3z M759 395h1v16h-1z M758 398h3v9h-3z M763 406h1v14h-1z M762 407h3v12h-3z M775 371h1v22h-1z M774 385h3v8h-3z M779 390h1v12h-1z M778 391h3v4h-3z M791 384h1v11h-1z M790 385h3v5h-3z M799 383h1v10h-1z M798 383h3v9h-3z M807 379h1v19h-1z M806 382h3v8h-3z M827 334h1v18h-1z M826 344h3v2h-3z M835 334h1v7h-1z M834 335h3v3h-3z M839 337h1v11h-1z M838 341h3v3h-3z M847 334h1v24h-1z M846 335h3v21h-3z M851 353h1v12h-1z M850 355h3v8h-3z M859 354h1v9h-1z M858 356h3v5h-3z M863 360h1v10h-1z M862 361h3v7h-3z M875 363h1v17h-1z M874 364h3v14h-3z M879 378h1v26h-1z M878 378h3v23h-3z M887 397h1v9h-1z M886 399h3v4h-3z M903 373h1v15h-1z M902 373h3v12h-3z M907 384h1v4h-1z M906 384h3v4h-3z M911 383h1v12h-1z M910 387h3v7h-3z M915 382h1v22h-1z M914 393h3v9h-3z M931 393h1v4h-1z M930 394h3v2h-3z M939 378h1v16h-1z M938 379h3v11h-3z M951 345h1v21h-1z M950 346h3v8h-3z M955 350h1v11h-1z M954 351h3v5h-3z M959 345h1v28h-1z M958 356h3v11h-3z M963 366h1v39h-1z M962 366h3v39h-3z M971 390h1v32h-1z M970 395h3v27h-3z M979 421h1v4h-1z M978 422h3v2h-3z M983 420h1v20h-1z M982 421h3v16h-3z M1003 390h1v8h-1z M1002 391h3v6h-3z M1007 397h1v17h-1z M1006 398h3v15h-3z M1015 402h1v14h-1z M1014 406h3v7h-3z M1023 408h1v13h-1z M1022 410h3v2h-3z M1035 403h1v23h-1z M1034 407h3v14h-3z M1039 421h1v11h-1z M1038 421h3v6h-3z M1047 424h1v11h-1z M1046 425h3v10h-3z M1055 432h1v14h-1z M1054 433h3v7h-3z M1063 436h1v13h-1z M1062 438h3v5h-3z M1067 442h1v18h-1z M1066 443h3v16h-3z M1071 455h1v22h-1z M1070 456h3v19h-3z M1075 472h1v7h-1z M1074 472h3v7h-3z M1083 471h1v12h-1z M1082 473h3v5h-3z M1091 467h1v28h-1z M1090 474h3v20h-3z M1099 480h1v5h-1z M1098 480h3v3h-3z M1107 478h1v13h-1z M1106 481h3v7h-3z M1115 479h1v21h-1z M1114 485h3v6h-3z M1135 443h1v22h-1z M1134 445h3v18h-3z M1139 461h1v9h-1z M1138 462h3v4h-3z M1151 457h1v23h-1z M1150 459h3v15h-3z M1155 472h1v13h-1z M1154 473h3v12h-3z M1159 481h1v14h-1z M1158 485h3v5h-3z M1163 481h1v14h-1z M1162 489h3v6h-3z M1175 487h1v26h-1z M1174 488h3v11h-3z M1183 490h1v17h-1z M1182 492h3v9h-3z M1195 474h1v16h-1z M1194 474h3v8h-3z M1199 482h1v12h-1z M1198 482h3v11h-3z M1203 492h1v18h-1z M1202 493h3v16h-3z M1211 483h1v11h-1z M1210 484h3v6h-3z M1219 482h1v12h-1z M1218 483h3v7h-3z M1223 487h1v32h-1z M1222 489h3v26h-3z M1227 508h1v16h-1z M1226 514h3v1h-3z M1243 478h1v21h-1z M1242 486h3v8h-3z M1255 457h1v33h-1z M1254 473h3v8h-3z M1267 460h1v12h-1z M1266 466h3v2h-3z" fill="#00ff00"/>
<polyline points="3.5,413.8 7.5,413.8 11.5,413.4 15.5,412.5 19.5,411.3 23.5,409.5 27.5,407.3 31.5,404.8 35.5,402.2 39.5,399.6 43.5,397.1 47.5,394.6 51.5,392.5 55.5,390.9 59.5,389.4 63.5,388.0 67.5,386.7 71.5,385.5 75.5,384.0 79.5,382.6 83.5,381.2 87.5,379.8 91.5,378.5 95.5,377.0 99.5,375.6 103.5,374.2 107.5,372.6 111.5,370.6 115.5,368.6 119.5,366.7 123.5,365.7 127.5,364.2 131.5,362.9 135.5,361.4 139.5,360.0 143.5,358.0 147.5,354.2 151.5,350.8 155.5,346.4 159.5,341.2 163.5,336.5 167.5,331.5 171.5,324.7 175.5,315.0 179.5,305.8 183.5,297.4 187.5,288.5 191.5,278.6 195.5,269.3 199.5,261.0 203.5,254.8 207.5,248.2 211.5,242.7 215.5,235.8 219.5,229.5 223.5,222.5 227.5,216.7 231.5,211.2 235.5,205.5 239.5,199.7 243.5,194.9 247.5,190.2 251.5,185.8 255.5,181.7 259.5,177.6 263.5,174.3 267.5,173.4 271.5,170.7 275.5,168.6 279.5,168.4 283.5,167.6 287.5,167.0 291.5,166.9 295.5,169.8 299.5,173.1 303.5,175.1 307.5,177.6 311.5,181.4 315.5,185.1 319.5,188.2 323.5,189.3 327.5,189.1 331.5,188.1 335.5,188.8 339.5,189.5 343.5,190.1 347.5,191.3 351.5,193.0 355.5,194.8 359.5,195.7 363.5,195.4 367.5,194.9 371.5,194.1 375.5,193.1 379.5,191.9 383.5,191.8 387.5,192.0 391.5,193.4 395.5,194.9 399.5,194.9 403.5,195.1 407.5,195.8 411.5,198.7 415.5,201.5 419.5,203.5 423.5,205.7 427.5,208.1 431.5,211.4 435.5,215.1 439.5,218.3 443.5,221.3 447.5,226.4 451.5,231.3 455.5,236.7 459.5,241.1 463.5,246.9 467.5,250.1 471.5,252.5 475.5,254.9 479.5,258.0 483.5,261.4 487.5,265.3 491.5,269.1 495.5,272.8 499.5,276.6 503.5,279.8 507.5,282.7 511.5,285.0 515.5,287.2 519.5,289.7 523.5,292.2 527.5,294.3 531.5,295.9 535.5,297.5 539.5,298.8 543.5,300.7 547.5,302.4 551.5,302.8 555.5,302.2 559.5,301.9 563.5,301.4 567.5,300.1 571.5,298.9 575.5,297.5 579.5,296.1 583.5,295.1 587.5,295.2 591.5,295.4 595.5,295.7 599.5,296.4 603.5,297.3 607.5,298.5 611.5,300.2 615.5,301.6 619.5,303.0 623.5,304.2 627.5,305.3 631.5,307.1 635.5,308.7 639.5,311.1 643.5,313.2 647.5,315.4 651.5,317.3 655.5,319.7 659.5,322.1 663.5,323.4 667.5,324.7 671.5,326.2 675.5,328.4 679.5,330.6 683.5,333.4 687.5,336.0 691.5,338.6 695.5,341.4 699.5,344.6 703.5,347.3 707.5,350.0 711.5,352.8 715.5,355.7 719.5,358.1 723.5,360.0 727.5,362.0 731.5,364.0 735.5,366.4 739.5,368.9 743.5,371.6 747.5,373.9 751.5,376.2 755.5,378.6 759.5,380.8 763.5,383.4 767.5,385.8 771.5,387.2 775.5,387.9 779.5,388.9 783.5,390.5 787.5,391.9 791.5,393.3 795.5,394.0 799.5,394.6 803.5,394.7 807.5,395.2 811.5,395.7 815.5,394.9 819.5,393.9 823.5,392.4 827.5,391.0 831.5,389.4 835.5,387.8 839.5,386.6 843.5,384.8 847.5,383.5 851.5,382.1 855.5,380.5 859.5,378.9 863.5,377.1 867.5,375.3 871.5,373.7 875.5,373.0 879.5,372.8 883.5,372.2 887.5,372.0 891.5,372.3 895.5,372.4 899.5,371.7 903.5,371.6 907.5,371.7 911.5,371.8 915.5,372.4 919.5,372.7 923.5,373.2 927.5,373.4 931.5,373.8 935.5,374.4 939.5,375.5 943.5,375.9 947.5,375.9 951.5,376.5 955.5,377.1 959.5,377.9 963.5,380.2 967.5,381.6 971.5,383.6 975.5,385.8 979.5,387.9 983.5,390.2 987.5,392.2 991.5,393.9 995.5,394.6 999.5,394.3 1003.5,394.3 1007.5,394.6 1011.5,394.9 1015.5,395.5 1019.5,396.7 1023.5,397.6 1027.5,398.3 1031.5,398.7 1035.5,399.3 1039.5,400.3 1043.5,401.2 1047.5,402.5 1051.5,403.7 1055.5,405.7 1059.5,407.3 1063.5,410.1 1067.5,413.9 1071.5,417.9 1075.5,422.0 1079.5,425.5 1083.5,427.9 1087.5,430.5 1091.5,432.9 1095.5,434.8 1099.5,436.8 1103.5,438.3 1107.5,440.4 1111.5,442.7 1115.5,445.7 1119.5,448.6 1123.5,451.3 1127.5,452.8 1131.5,454.0 1135.5,455.7 1139.5,457.6 1143.5,459.4 1147.5,461.1 1151.5,463.4 1155.5,465.5 1159.5,467.6 1163.5,469.9 1167.5,471.7 1171.5,473.6 1175.5,475.6 1179.5,477.5 1183.5,479.4 1187.5,480.6 1191.5,480.5 1195.5,480.6 1199.5,481.3 1203.5,482.4 1207.5,482.7 1211.5,482.6 1215.5,482.7 1219.5,482.9 1223.5,484.0 1227.5,484.9 1231.5,485.3 1235.5,485.3 1239.5,485.5 1243.5,486.0 1247.5,486.8 1251.5,487.7 1255.5,488.3 1259.5,488.6 1263.5,488.6 1267.5,488.9" fill="none" stroke="#0000cd" stroke-width="1" />
<polyline points="3.5,407.2 7.5,405.1 11.5,402.5 15.5,399.6 19.5,396.4 23.5,392.6 27.5,388.8 31.5,385.1 35.5,381.8 39.5,378.8 43.5,376.4 47.5,373.7 51.5,371.3 55.5,369.3 59.5,368.4 63.5,367.5 67.5,367.1 71.5,366.9 75.5,366.6 79.5,367.1 83.5,367.9 87.5,369.2 91.5,370.7 95.5,371.3 99.5,371.4 103.5,371.7 107.5,370.6 111.5,368.0 115.5,365.6 119.5,363.5 123.5,362.1 127.5,359.6 131.5,357.2 135.5,354.1 139.5,351.0 143.5,346.0 147.5,336.7 151.5,328.9 155.5,319.3 159.5,308.1 163.5,299.0 167.5,289.9 171.5,277.1 175.5,258.5 179.5,240.1 183.5,224.4 187.5,207.6 191.5,189.5 195.5,172.3 199.5,159.1 203.5,154.8 207.5,149.4 211.5,148.4 215.5,145.4 219.5,142.2 223.5,138.2 227.5,139.2 231.5,145.6 235.5,150.6 239.5,154.1 243.5,161.6 247.5,170.1 251.5,178.1 255.5,184.2 259.5,185.6 263.5,187.6 267.5,188.3 271.5,189.4 275.5,188.9 279.5,192.1 283.5,193.9 287.5,195.1 291.5,194.5 295.5,194.4 299.5,193.4 303.5,192.1 307.5,190.1 311.5,188.8 315.5,188.3 319.5,188.9 323.5,188.8 327.5,188.9 331.5,190.1 335.5,189.1 339.5,189.0 343.5,187.7 347.5,191.4 351.5,195.4 355.5,197.0 359.5,198.2 363.5,199.9 367.5,199.1 371.5,197.5 375.5,194.6 379.5,191.4 383.5,193.5 387.5,196.6 391.5,199.4 395.5,200.6 399.5,202.6 403.5,202.1 407.5,201.1 411.5,202.9 415.5,206.7 419.5,210.7 423.5,215.2 427.5,220.1 431.5,228.2 435.5,237.8 439.5,245.7 443.5,251.6 447.5,259.6 451.5,268.0 455.5,278.5 459.5,287.7 463.5,297.2 467.5,301.4 471.5,304.7 475.5,307.1 479.5,310.3 483.5,314.0 487.5,314.5 491.5,313.2 495.5,311.3 499.5,309.7 503.5,307.9 507.5,306.7 511.5,303.0 515.5,299.3 519.5,294.2 523.5,292.5 527.5,290.8 531.5,290.9 535.5,291.4 539.5,290.9 543.5,291.0 547.5,291.5 551.5,292.5 555.5,292.9 559.5,292.9 563.5,291.7 567.5,291.8 571.5,293.1 575.5,295.2 579.5,296.1 583.5,298.9 587.5,300.0 591.5,300.2 595.5,300.5 599.5,301.1 603.5,303.0 607.5,305.2 611.5,308.9 615.5,310.6 619.5,313.2 623.5,316.6 627.5,320.4 631.5,323.6 635.5,326.3 639.5,328.4 643.5,331.0 647.5,333.6 651.5,337.0 655.5,341.5 659.5,344.1 663.5,344.3 667.5,344.1 671.5,345.3 675.5,347.3 679.5,349.5 683.5,351.9 687.5,353.9 691.5,356.9 695.5,360.1 699.5,363.3 703.5,367.2 707.5,370.2 711.5,371.0 715.5,372.5 719.5,375.4 723.5,378.7 727.5,382.1 731.5,385.1 735.5,387.4 739.5,389.3 743.5,392.8 747.5,396.2 751.5,398.4 755.5,399.1 759.5,400.3 763.5,402.6 767.5,404.4 771.5,404.5 775.5,405.4 779.5,405.9 783.5,405.2 787.5,403.9 791.5,402.8 795.5,401.0 799.5,398.9 803.5,396.3 807.5,394.6 811.5,393.6 815.5,390.3 819.5,385.9 823.5,381.3 827.5,378.3 831.5,374.2 835.5,370.2 839.5,367.1 843.5,363.5 847.5,361.1 851.5,359.7 855.5,357.1 859.5,355.6 863.5,354.0 867.5,352.7 871.5,352.9 875.5,354.4 879.5,358.4 883.5,362.2 887.5,367.1 891.5,371.3 895.5,375.0 899.5,377.7 903.5,379.7 907.5,381.5 911.5,384.2 915.5,387.1 919.5,389.4 923.5,391.7 927.5,394.0 931.5,395.2 935.5,393.7 939.5,393.0 943.5,389.7 947.5,386.0 951.5,383.0 955.5,381.9 959.5,380.6 963.5,381.9 967.5,382.1 971.5,383.5 975.5,385.2 979.5,387.0 983.5,389.9 987.5,392.1 991.5,394.5 995.5,395.4 999.5,398.0 1003.5,401.6 1007.5,405.8 1011.5,409.4 1015.5,412.7 1019.5,413.0 1023.5,414.1 1027.5,413.0 1031.5,411.9 1035.5,411.7 1039.5,411.0 1043.5,411.0 1047.5,412.5 1051.5,414.6 1055.5,418.0 1059.5,420.8 1063.5,422.9 1067.5,426.6 1071.5,431.1 1075.5,436.1 1079.5,440.4 1083.5,445.4 1087.5,450.3 1091.5,455.4 1095.5,459.2 1099.5,463.4 1103.5,466.7 1107.5,470.7 1111.5,473.8 1115.5,477.8 1119.5,480.4 1123.5,481.7 1127.5,480.5 1131.5,478.0 1135.5,477.3 1139.5,476.5 1143.5,475.9 1147.5,473.5 1151.5,473.1 1155.5,473.2 1159.5,473.8 1163.5,474.2 1167.5,474.6 1171.5,474.5 1175.5,475.9 1179.5,477.0 1183.5,480.0 1187.5,483.5 1191.5,484.3 1195.5,485.5 1199.5,487.5 1203.5,491.0 1207.5,491.7 1211.5,492.1 1215.5,491.6 1219.5,491.2 1223.5,493.0 1227.5,494.9 1231.5,494.6 1235.5,494.5 1239.5,493.4 1243.5,493.4 1247.5,493.8 1251.5,493.2 1255.5,492.3 1259.5,489.8 1263.5,488.5 1267.5,487.0" fill="none" stroke="#ff0000" stroke-width="1" />
<polyline points="3.5,394.0 7.5,391.3 11.5,388.1 15.5,384.4 19.5,380.1 23.5,377.0 27.5,373.6 31.5,370.2 35.5,367.1 39.5,363.7 43.5,362.2 47.5,360.4 51.5,360.6 55.5,362.3 59.5,364.9 63.5,366.4 67.5,369.6 71.5,371.9 75.5,372.4 79.5,373.2 83.5,374.8 87.5,376.2 91.5,377.6 95.5,376.9 99.5,374.4 103.5,370.9 107.5,364.6 111.5,354.9 115.5,348.9 119.5,344.2 123.5,342.8 127.5,341.0 131.5,341.9 135.5,341.0 139.5,339.6 143.5,331.0 147.5,313.7 151.5,297.8 155.5,277.1 159.5,251.1 163.5,233.0 167.5,223.8 171.5,203.7 175.5,173.7 179.5,152.4 183.5,132.3 187.5,111.6 191.5,95.7 195.5,98.3 199.5,104.1 203.5,118.6 207.5,134.8 211.5,162.0 215.5,175.8 219.5,185.5 223.5,177.4 227.5,175.0 231.5,166.1 235.5,166.9 239.5,165.7 243.5,177.2 247.5,182.2 251.5,189.2 255.5,198.3 259.5,206.9 263.5,207.7 267.5,212.9 271.5,207.3 275.5,198.8 279.5,195.6 283.5,192.7 287.5,185.3 291.5,181.2 295.5,180.9 299.5,180.8 303.5,177.1 307.5,175.3 311.5,182.4 315.5,189.8 319.5,194.8 323.5,203.6 327.5,203.8 331.5,202.4 335.5,198.1 339.5,193.2 343.5,182.4 347.5,188.2 351.5,195.7 355.5,202.7 359.5,202.7 363.5,209.3 367.5,203.9 371.5,195.7 375.5,188.3 379.5,184.4 383.5,185.9 387.5,195.5 391.5,203.3 395.5,209.9 399.5,213.7 403.5,212.4 407.5,208.3 411.5,212.6 415.5,220.0 419.5,232.0 423.5,240.5 427.5,249.0 431.5,259.0 435.5,271.4 439.5,283.9 443.5,297.5 447.5,313.8 451.5,321.4 455.5,327.7 459.5,330.1 463.5,335.9 467.5,329.8 471.5,322.8 475.5,312.0 479.5,303.8 483.5,296.0 487.5,295.4 491.5,295.1 495.5,295.6 499.5,295.8 503.5,296.7 507.5,299.7 511.5,299.2 515.5,296.5 519.5,292.4 523.5,286.7 527.5,278.4 531.5,277.9 535.5,281.8 539.5,286.6 543.5,291.2 547.5,297.2 551.5,300.3 555.5,299.9 559.5,302.4 563.5,301.7 567.5,300.0 571.5,298.0 575.5,299.0 579.5,295.7 583.5,298.4 587.5,300.9 591.5,301.9 595.5,301.6 599.5,305.1 603.5,308.8 607.5,315.0 611.5,324.0 615.5,330.7 619.5,335.7 623.5,338.2 627.5,340.3 631.5,340.2 635.5,339.6 639.5,340.9 643.5,341.2 647.5,338.8 651.5,339.1 655.5,347.8 659.5,352.8 663.5,352.1 667.5,353.4 671.5,353.8 675.5,351.8 679.5,353.4 683.5,361.8 687.5,367.8 691.5,372.3 695.5,376.7 699.5,379.8 703.5,381.6 707.5,384.6 711.5,387.1 715.5,387.6 719.5,385.8 723.5,385.4 727.5,387.1 731.5,391.3 735.5,394.9 739.5,400.9 743.5,407.4 747.5,411.9 751.5,413.9 755.5,412.6 759.5,412.4 763.5,411.9 767.5,409.9 771.5,404.7 775.5,403.6 779.5,401.0 783.5,394.6 787.5,389.9 791.5,390.3 795.5,388.5 799.5,387.9 803.5,386.9 807.5,387.8 811.5,386.8 815.5,382.3 819.5,375.4 823.5,367.9 827.5,359.2 831.5,349.3 835.5,344.7 839.5,342.1 843.5,340.3 847.5,342.2 851.5,347.8 855.5,351.3 859.5,354.6 863.5,361.1 867.5,363.0 871.5,363.3 875.5,367.7 879.5,375.8 883.5,382.1 887.5,389.7 891.5,396.3 895.5,399.9 899.5,394.2 903.5,391.3 907.5,388.2 911.5,387.5 915.5,388.6 919.5,393.9 923.5,396.6 927.5,398.2 931.5,398.6 935.5,394.2 939.5,392.3 943.5,383.9 947.5,374.1 951.5,365.7 955.5,361.1 959.5,356.5 963.5,366.3 967.5,376.4 971.5,390.1 975.5,403.1 979.5,414.5 983.5,420.8 987.5,426.7 991.5,424.9 995.5,421.0 999.5,414.7 1003.5,406.7 1007.5,404.1 1011.5,402.8 1015.5,404.9 1019.5,408.4 1023.5,411.3 1027.5,410.2 1031.5,410.1 1035.5,411.8 1039.5,415.3 1043.5,418.0 1047.5,423.4 1051.5,428.6 1055.5,432.3 1059.5,434.2 1063.5,437.6 1067.5,442.4 1071.5,451.0 1075.5,459.0 1079.5,466.2 1083.5,473.2 1087.5,476.2 1091.5,480.0 1095.5,480.0 1099.5,482.2 1103.5,483.1 1107.5,485.9 1111.5,483.8 1115.5,486.0 1119.5,485.3 1123.5,484.3 1127.5,478.4 1131.5,470.7 1135.5,465.0 1139.5,462.3 1143.5,460.0 1147.5,460.3 1151.5,466.1 1155.5,470.6 1159.5,475.4 1163.5,481.2 1167.5,487.0 1171.5,490.2 1175.5,492.9 1179.5,493.3 1183.5,494.5 1187.5,495.6 1191.5,492.5 1195.5,489.2 1199.5,489.4 1203.5,491.0 1207.5,489.0 1211.5,492.2 1215.5,492.4 1219.5,491.7 1223.5,492.9 1227.5,499.1 1231.5,500.0 1235.5,501.6 1239.5,500.8 1243.5,496.6 1247.5,489.5 1251.5,485.3 1255.5,483.3 1259.5,481.0 1263.5,475.4 1267.5,473.0" fill="none" stroke="#ffa500" stroke-width="1" />
</g>
<rect x="3" y="332" width="1593" height="2" fill="#ff0000" />
<rect x="3" y="396" width="1593" height="2" fill="#ff0000" />
<rect x="2" y="394" width="6" height="6" fill="#ff0000" />
<rect x="4" y="396" width="2" height="2" fill="#ffffff" />
<rect x="1589" y="394" width="6" height="6" fill="#ff0000" />
<rect x="1591" y="396" width="2" height="2" fill="#ffffff" />
<rect x="3" y="446" width="1593" height="2" fill="#00ff00" />
<rect x="2" y="444" width="6" height="6" fill="#00ff00" />
<rect x="4" y="446" width="2" height="2" fill="#ffffff" />
<rect x="1589" y="444" width="6" height="6" fill="#00ff00" />
<rect x="1591" y="446" width="2" height="2" fill="#ffffff" />
<rect x="3" y="495" width="1593" height="2" fill="#0000ff" />
<rect x="2" y="493" width="6" height="6" fill="#0000ff" />
<rect x="4" y="495" width="2" height="2" fill="#ffffff" />
<rect x="1589" y="493" width="6" height="6" fill="#0000ff" />
<rect x="1591" y="495" width="2" height="2" fill="#ffffff" />
<rect x="1597" y="327" width="40" height="11" fill="#ff0000" />
<text x="1601" y="336" font-size="9" fill="#ffffff"  stroke="#ffffff" stroke-width="0.12" >1.34206</text>
<rect x="1597" y="391" width="40" height="11" fill="#ff0000" />
<text x="1601" y="400" font-size="9" fill="#ffffff"  stroke="#ffffff" stroke-width="0.12" >1.31405</text>
<rect x="1597" y="441" width="40" height="11" fill="#00ff00" />
<text x="1601" y="450" font-size="9" fill="#ffffff"  stroke="#ffffff" stroke-width="0.12" >1.29208</text>
<rect x="1597" y="462" width="40" height="11" fill="#000000" />
<text x="1601" y="471" font-size="9" fill="#ffffff"  stroke="#ffffff" stroke-width="0.12" >1.28326</text>
<rect x="1597" y="490" width="40" height="11" fill="#0000ff" />
<text x="1601" y="499" font-size="9" fill="#ffffff"  stroke="#ffffff" stroke-width="0.12" >1.27027</text>
<g clip-path="url(#cr)">
<polyline points="3.5,567.3 7.5,566.3 11.5,564.4 15.5,563.8 19.5,563.4 23.5,560.3 27.5,558.6 31.5,557.5 35.5,557.2 39.5,556.5 43.5,560.4 47.5,557.9 51.5,567.2 55.5,574.3 59.5,576.8 63.5,574.8 67.5,577.7 71.5,580.3 75.5,578.0 79.5,582.1 83.5,583.3 87.5,585.2 91.5,587.6 95.5,576.0 99.5,573.1 103.5,570.8 107.5,564.8 111.5,559.9 115.5,564.2 119.5,566.5 123.5,576.3 127.5,570.2 131.5,570.1 135.5,568.1 139.5,568.1 143.5,560.8 147.5,552.1 151.5,555.6 155.5,552.6 159.5,550.5 163.5,557.6 167.5,556.3 171.5,552.3 175.5,548.6 179.5,553.4 183.5,559.5 187.5,558.3 191.5,556.6 195.5,560.3 199.5,568.3 203.5,580.4 207.5,579.4 211.5,584.2 215.5,577.4 219.5,579.3 223.5,576.5 227.5,579.8 231.5,579.6 235.5,578.9 239.5,579.4 243.5,586.0 247.5,584.3 251.5,585.6 255.5,586.5 259.5,586.6 263.5,586.7 267.5,588.9 271.5,579.7 275.5,578.3 279.5,583.7 283.5,584.1 287.5,582.0 291.5,576.6 295.5,579.0 299.5,584.6 303.5,581.6 307.5,581.4 311.5,584.4 315.5,586.8 319.5,589.9 323.5,590.2 327.5,580.9 331.5,582.3 335.5,581.6 339.5,584.7 343.5,579.1 347.5,587.0 351.5,589.5 355.5,588.4 359.5,584.0 363.5,585.0 367.5,581.0 371.5,581.1 375.5,580.8 379.5,580.1 383.5,587.6 387.5,591.4 391.5,589.5 395.5,587.5 399.5,583.3 403.5,584.8 407.5,586.3 411.5,593.3 415.5,594.7 419.5,595.7 423.5,592.2 427.5,593.6 431.5,600.6 435.5,603.1 439.5,603.9 443.5,601.8 447.5,604.6 451.5,603.8 455.5,605.5 459.5,601.0 463.5,602.6 467.5,591.0 471.5,589.4 475.5,587.7 479.5,587.7 483.5,590.6 487.5,589.8 491.5,588.2 495.5,587.3 499.5,587.1 503.5,591.4 507.5,593.4 511.5,585.9 515.5,581.8 519.5,579.7 523.5,582.2 527.5,580.5 531.5,586.0 535.5,588.0 539.5,587.1 543.5,589.0 547.5,589.4 551.5,590.5 555.5,586.2 559.5,590.2 563.5,586.3 567.5,585.0 571.5,585.6 575.5,587.4 579.5,583.5 583.5,590.6 587.5,588.7 591.5,586.5 595.5,585.4 599.5,589.3 603.5,595.7 607.5,597.8 611.5,599.9 615.5,593.6 619.5,594.0 623.5,596.3 627.5,598.1 631.5,596.6 635.5,588.9 639.5,592.5 643.5,593.4 647.5,590.2 651.5,593.6 655.5,600.3 659.5,597.0 663.5,587.1 667.5,588.0 671.5,589.8 675.5,593.6 679.5,596.2 683.5,598.2 687.5,594.6 691.5,593.8 695.5,597.3 699.5,598.3 703.5,598.8 707.5,597.4 711.5,595.2 715.5,596.2 719.5,592.2 723.5,595.3 727.5,597.7 731.5,600.0 735.5,600.2 739.5,601.4 743.5,604.6 747.5,603.2 751.5,599.9 755.5,590.9 759.5,594.2 763.5,597.7 767.5,592.6 771.5,583.5 775.5,585.4 779.5,586.2 783.5,583.0 787.5,582.4 791.5,584.3 795.5,581.5 799.5,585.3 803.5,581.0 807.5,584.5 811.5,582.4 815.5,573.9 819.5,572.7 823.5,569.1 827.5,570.2 831.5,567.2 835.5,569.1 839.5,572.2 843.5,569.5 847.5,579.6 851.5,582.2 855.5,579.9 859.5,581.7 863.5,584.6 867.5,583.7 871.5,583.1 875.5,589.1 879.5,596.4 883.5,595.6 887.5,596.7 891.5,593.7 895.5,593.0 899.5,582.4 903.5,587.0 907.5,588.0 911.5,590.3 915.5,592.9 919.5,591.5 923.5,591.2 927.5,589.6 931.5,589.9 935.5,581.7 939.5,586.3 943.5,574.1 947.5,571.4 951.5,574.9 955.5,575.9 959.5,580.4 963.5,592.6 967.5,589.5 971.5,595.6 975.5,595.4 979.5,595.9 983.5,598.7 987.5,594.7 991.5,589.8 995.5,586.0 999.5,582.8 1003.5,584.4 1007.5,589.3 1011.5,587.1 1015.5,588.8 1019.5,587.5 1023.5,588.4 1027.5,586.7 1031.5,586.1 1035.5,591.3 1039.5,593.1 1043.5,592.4 1047.5,595.4 1051.5,594.1 1055.5,596.5 1059.5,594.6 1063.5,596.7 1067.5,601.4 1071.5,605.2 1075.5,606.1 1079.5,601.9 1083.5,603.2 1087.5,601.1 1091.5,605.7 1095.5,598.1 1099.5,599.0 1103.5,598.3 1107.5,600.1 1111.5,597.2 1115.5,599.5 1119.5,593.4 1123.5,591.9 1127.5,583.6 1131.5,578.7 1135.5,585.5 1139.5,586.7 1143.5,586.4 1147.5,584.1 1151.5,589.4 1155.5,592.8 1159.5,594.5 1163.5,595.8 1167.5,592.9 1171.5,593.2 1175.5,596.1 1179.5,592.8 1183.5,595.6 1187.5,592.3 1191.5,583.1 1195.5,586.2 1199.5,590.1 1203.5,594.9 1207.5,585.3 1211.5,587.2 1215.5,584.6 1219.5,586.9 1223.5,594.0 1227.5,594.2 1231.5,586.4 1235.5,585.3 1239.5,583.4 1243.5,586.2 1247.5,581.6 1251.5,579.5 1255.5,582.2 1259.5,580.0 1263.5,577.4 1267.5,578.5" fill="none" stroke="#1e90ff" stroke-width="1" />
</g>
<g clip-path="url(#cd)">
<path d="M3 690V693h1V690z M7 689V693h1V689z M11 688V693h1V688z M15 687V693h1V687z M19 687V693h1V687z M23 686V693h1V686z M27 685V693h1V685z M31 684V693h1V684z M35 684V693h1V684z M39 683V693h1V683z M43 683V693h1V683z M47 683V693h1V683z M51 683V693h1V683z M55 684V693h1V684z M59 685V693h1V685z M63 685V693h1V685z M67 686V693h1V686z M71 687V693h1V687z M75 687V693h1V687z M79 688V693h1V688z M83 689V693h1V689z M87 689V693h1V689z M91 690V693h1V690z M95 690V693h1V690z M99 689V693h1V689z M103 689V693h1V689z M107 688V693h1V688z M111 686V693h1V686z M115 685V693h1V685z M119 684V693h1V684z M123 685V693h1V685z M127 684V693h1V684z M131 684V693h1V684z M135 684V693h1V684z M139 684V693h1V684z M143 682V693h1V682z M147 677V693h1V677z M151 674V693h1V674z M155 670V693h1V670z M159 666V693h1V666z M163 664V693h1V664z M167 661V693h1V661z M171 657V693h1V657z M175 649V693h1V649z M179 645V693h1V645z M183 643V693h1V643z M187 641V693h1V641z M191 639V693h1V639z M195 639V693h1V639z M199 641V693h1V641z M203 648V693h1V648z M207 653V693h1V653z M211 659V693h1V659z M215 661V693h1V661z M219 664V693h1V664z M223 665V693h1V665z M227 668V693h1V668z M231 670V693h1V670z M235 671V693h1V671z M239 673V693h1V673z M243 677V693h1V677z M247 680V693h1V680z M251 682V693h1V682z M255 685V693h1V685z M259 687V693h1V687z M263 689V693h1V689z M267 691V693h1V691z M271 690V693h1V690z M275 688V693h1V688z M279 689V693h1V689z M283 690V693h1V690z M287 689V693h1V689z M291 688V693h1V688z M295 687V693h1V687z M299 688V693h1V688z M303 688V693h1V688z M307 688V693h1V688z M311 689V693h1V689z M315 690V693h1V690z M319 692V692h1V692z M323 692V694h1V692z M327 692V693h1V692z M331 692V692h1V692z M335 692V693h1V692z M339 692V692h1V692z M343 691V693h1V691z M347 692V693h1V692z M351 692V694h1V692z M355 692V695h1V692z M359 692V695h1V692z M363 692V695h1V692z M367 692V693h1V692z M371 692V692h1V692z M375 692V693h1V692z M379 691V693h1V691z M383 692V692h1V692z M387 692V694h1V692z M391 692V696h1V692z M395 692V696h1V692z M399 692V695h1V692z M403 692V695h1V692z M407 692V695h1V692z M411 692V697h1V692z M415 692V700h1V692z M419 692V702h1V692z M423 692V702h1V692z M427 692V703h1V692z M431 692V706h1V692z M435 692V710h1V692z M439 692V713h1V692z M443 692V714h1V692z M447 692V717h1V692z M451 692V718h1V692z M455 692V720h1V692z M459 692V720h1V692z M463 692V720h1V692z M467 692V718h1V692z M471 692V715h1V692z M475 692V713h1V692z M479 692V711h1V692z M483 692V709h1V692z M487 692V708h1V692z M491 692V706h1V692z M495 692V705h1V692z M499 692V704h1V692z M503 692V703h1V692z M507 692V703h1V692z M511 692V702h1V692z M515 692V700h1V692z M519 692V698h1V692z M523 692V697h1V692z M527 692V695h1V692z M531 692V695h1V692z M535 692V696h1V692z M539 692V696h1V692z M543 692V696h1V692z M547 692V696h1V692z M551 692V697h1V692z M555 692V697h1V692z M559 692V697h1V692z M563 692V697h1V692z M567 692V696h1V692z M571 692V696h1V692z M575 692V696h1V692z M579 692V695h1V692z M583 692V696h1V692z M587 692V696h1V692z M591 692V696h1V692z M595 692V696h1V692z M599 692V696h1V692z M603 692V697h1V692z M607 692V699h1V692z M611 692V701h1V692z M615 692V701h1V692z M619 692V701h1V692z M623 692V702h1V692z M627 692V703h1V692z M631 692V703h1V692z M635 692V702h1V692z M639 692V702h1V692z M643 692V702h1V692z M647 692V702h1V692z M651 692V702h1V692z M655 692V703h1V692z M659 692V704h1V692z M663 692V703h1V692z M667 692V702h1V692z M671 692V702h1V692z M675 692V702h1V692z M679 692V703h1V692z M683 692V704h1V692z M687 692V704h1V692z M691 692V704h1V692z M695 692V705h1V692z M699 692V705h1V692z M703 692V706h1V692z M707 692V706h1V692z M711 692V705h1V692z M715 692V705h1V692z M719 692V704h1V692z M723 692V704h1V692z M727 692V704h1V692z M731 692V705h1V692z M735 692V705h1V692z M739 692V705h1V692z M743 692V706h1V692z M747 692V707h1V692z M751 692V707h1V692z M755 692V705h1V692z M759 692V705h1V692z M763 692V705h1V692z M767 692V704h1V692z M771 692V702h1V692z M775 692V701h1V692z M779 692V700h1V692z M783 692V699h1V692z M787 692V697h1V692z M791 692V697h1V692z M795 692V696h1V692z M799 692V695h1V692z M803 692V694h1V692z M807 692V694h1V692z M811 692V694h1V692z M815 692V693h1V692z M819 690V693h1V690z M823 688V693h1V688z M827 686V693h1V686z M831 685V693h1V685z M835 684V693h1V684z M839 683V693h1V683z M843 682V693h1V682z M847 683V693h1V683z M851 684V693h1V684z M855 685V693h1V685z M859 686V693h1V686z M863 687V693h1V687z M867 688V693h1V688z M871 688V693h1V688z M875 690V693h1V690z M879 692V692h1V692z M883 692V694h1V692z M887 692V696h1V692z M891 692V697h1V692z M895 692V697h1V692z M899 692V696h1V692z M903 692V696h1V692z M907 692V696h1V692z M911 692V697h1V692z M915 692V697h1V692z M919 692V698h1V692z M923 692V698h1V692z M927 692V698h1V692z M931 692V698h1V692z M935 692V697h1V692z M939 692V696h1V692z M943 692V694h1V692z M947 691V693h1V691z M951 690V693h1V690z M955 689V693h1V689z M959 689V693h1V689z M963 691V693h1V691z M967 692V693h1V692z M971 692V695h1V692z M975 692V697h1V692z M979 692V699h1V692z M983 692V701h1V692z M987 692V702h1V692z M991 692V701h1V692z M995 692V700h1V692z M999 692V699h1V692z M1003 692V698h1V692z M1007 692V698h1V692z M1011 692V698h1V692z M1015 692V698h1V692z M1019 692V698h1V692z M1023 692V698h1V692z M1027 692V697h1V692z M1031 692V697h1V692z M1035 692V697h1V692z M1039 692V698h1V692z M1043 692V699h1V692z M1047 692V699h1V692z M1051 692V700h1V692z M1055 692V700h1V692z M1059 692V701h1V692z M1063 692V701h1V692z M1067 692V702h1V692z M1071 692V704h1V692z M1075 692V706h1V692z M1079 692V707h1V692z M1083 692V707h1V692z M1087 692V707h1V692z M1091 692V709h1V692z M1095 692V709h1V692z M1099 692V708h1V692z M1103 692V708h1V692z M1107 692V708h1V692z M1111 692V708h1V692z M1115 692V707h1V692z M1119 692V707h1V692z M1123 692V705h1V692z M1127 692V703h1V692z M1131 692V701h1V692z M1135 692V700h1V692z M1139 692V699h1V692z M1143 692V698h1V692z M1147 692V697h1V692z M1151 692V697h1V692z M1155 692V698h1V692z M1159 692V699h1V692z M1163 692V700h1V692z M1167 692V700h1V692z M1171 692V700h1V692z M1175 692V701h1V692z M1179 692V701h1V692z M1183 692V701h1V692z M1187 692V701h1V692z M1191 692V699h1V692z M1195 692V699h1V692z M1199 692V699h1V692z M1203 692V700h1V692z M1207 692V699h1V692z M1211 692V698h1V692z M1215 692V697h1V692z M1219 692V697h1V692z M1223 692V698h1V692z M1227 692V699h1V692z M1231 692V699h1V692z M1235 692V698h1V692z M1239 692V697h1V692z M1243 692V697h1V692z M1247 692V696h1V692z M1251 692V694h1V692z M1255 692V694h1V692z M1259 692V693h1V692z M1263 691V693h1V691z M1267 691V693h1V691z" fill="#c0c0c0"/>
<polyline points="3.5,693.8 7.5,692.8 11.5,691.9 15.5,690.9 19.5,690.0 23.5,689.1 27.5,688.3 31.5,687.4 35.5,686.6 39.5,685.8 43.5,685.1 47.5,684.6 51.5,684.1 55.5,683.8 59.5,683.6 63.5,683.7 67.5,683.9 71.5,684.2 75.5,684.6 79.5,685.2 83.5,685.8 87.5,686.5 91.5,687.2 95.5,687.8 99.5,688.3 103.5,688.6 107.5,688.7 111.5,688.6 115.5,688.3 119.5,687.8 123.5,687.4 127.5,686.7 131.5,686.1 135.5,685.5 139.5,684.9 143.5,684.3 147.5,683.3 151.5,682.1 155.5,680.6 159.5,678.4 163.5,676.1 167.5,673.6 171.5,670.6 175.5,666.8 179.5,662.7 183.5,658.9 187.5,655.2 191.5,651.7 195.5,648.7 199.5,646.2 203.5,644.6 207.5,644.1 211.5,645.2 215.5,647.1 219.5,649.4 223.5,652.0 227.5,655.2 231.5,658.7 235.5,662.0 239.5,664.8 243.5,667.5 247.5,669.8 251.5,672.1 255.5,674.5 259.5,676.9 263.5,679.2 267.5,681.6 271.5,683.7 275.5,685.4 279.5,686.7 283.5,687.8 287.5,688.6 291.5,688.9 295.5,688.9 299.5,688.8 303.5,688.4 307.5,688.2 311.5,688.3 315.5,688.4 319.5,688.7 323.5,689.2 327.5,689.9 331.5,690.5 335.5,690.9 339.5,691.4 343.5,691.7 347.5,692.1 351.5,692.5 355.5,692.8 359.5,692.9 363.5,693.0 367.5,693.2 371.5,693.2 375.5,693.2 379.5,693.2 383.5,693.2 387.5,693.2 391.5,693.3 395.5,693.4 399.5,693.5 403.5,693.7 407.5,694.0 411.5,694.6 415.5,695.6 419.5,696.7 423.5,697.6 427.5,698.4 431.5,699.6 435.5,701.2 439.5,703.1 443.5,705.3 447.5,707.4 451.5,709.4 455.5,711.5 459.5,713.4 463.5,715.3 467.5,716.6 471.5,717.2 475.5,717.3 479.5,716.8 483.5,716.0 487.5,714.9 491.5,713.4 495.5,711.8 499.5,709.9 503.5,708.3 507.5,706.9 511.5,705.7 515.5,704.6 519.5,703.3 523.5,702.1 527.5,700.8 531.5,699.7 535.5,698.8 539.5,698.0 543.5,697.2 547.5,696.6 551.5,696.2 555.5,696.1 559.5,696.1 563.5,696.3 567.5,696.4 571.5,696.4 575.5,696.4 579.5,696.3 583.5,696.3 587.5,696.2 591.5,696.1 595.5,696.0 599.5,695.9 603.5,696.0 607.5,696.4 611.5,696.9 615.5,697.6 619.5,698.2 623.5,698.8 627.5,699.6 631.5,700.4 635.5,701.1 639.5,701.7 643.5,702.0 647.5,702.1 651.5,702.2 655.5,702.4 659.5,702.6 663.5,702.6 667.5,702.5 671.5,702.4 675.5,702.3 679.5,702.4 683.5,702.7 687.5,702.9 691.5,703.0 695.5,703.1 699.5,703.3 703.5,703.8 707.5,704.2 711.5,704.6 715.5,704.9 719.5,704.9 723.5,704.9 727.5,704.9 731.5,705.0 735.5,704.9 739.5,704.9 743.5,705.0 747.5,705.1 751.5,705.3 755.5,705.4 759.5,705.5 763.5,705.6 767.5,705.5 771.5,705.2 775.5,704.7 779.5,704.0 783.5,703.1 787.5,702.0 791.5,701.1 795.5,700.0 799.5,699.0 803.5,697.9 807.5,697.0 811.5,696.1 815.5,695.2 819.5,694.3 823.5,693.2 827.5,692.1 831.5,690.9 835.5,689.6 839.5,688.4 843.5,687.1 847.5,685.9 851.5,685.1 855.5,684.6 859.5,684.3 863.5,684.4 867.5,684.7 871.5,685.2 875.5,686.0 879.5,687.1 883.5,688.3 887.5,689.6 891.5,690.9 895.5,692.2 899.5,693.2 903.5,694.2 907.5,695.1 911.5,695.8 915.5,696.4 919.5,696.8 923.5,697.0 927.5,697.2 931.5,697.2 935.5,697.2 939.5,697.2 943.5,697.0 947.5,696.4 951.5,695.5 955.5,694.6 959.5,693.6 963.5,692.8 967.5,692.3 971.5,692.1 975.5,692.2 979.5,692.8 983.5,693.8 987.5,695.1 991.5,696.5 995.5,697.7 999.5,698.6 1003.5,699.2 1007.5,699.5 1011.5,699.6 1015.5,699.5 1019.5,699.2 1023.5,698.7 1027.5,698.3 1031.5,697.9 1035.5,697.7 1039.5,697.7 1043.5,697.7 1047.5,697.9 1051.5,698.1 1055.5,698.4 1059.5,698.7 1063.5,699.1 1067.5,699.8 1071.5,700.5 1075.5,701.4 1079.5,702.3 1083.5,703.2 1087.5,704.1 1091.5,705.0 1095.5,705.8 1099.5,706.6 1103.5,707.3 1107.5,707.7 1111.5,707.9 1115.5,708.0 1119.5,707.9 1123.5,707.6 1127.5,707.1 1131.5,706.2 1135.5,705.2 1139.5,704.2 1143.5,703.1 1147.5,702.0 1151.5,700.9 1155.5,699.9 1159.5,699.2 1163.5,698.8 1167.5,698.7 1171.5,698.8 1175.5,699.0 1179.5,699.2 1183.5,699.6 1187.5,700.0 1191.5,700.1 1195.5,700.1 1199.5,700.0 1203.5,699.9 1207.5,699.8 1211.5,699.5 1215.5,699.2 1219.5,698.7 1223.5,698.5 1227.5,698.5 1231.5,698.5 1235.5,698.4 1239.5,698.2 1243.5,697.9 1247.5,697.6 1251.5,697.3 1255.5,696.9 1259.5,696.2 1263.5,695.4 1267.5,694.5" fill="none" stroke="#ff0000" stroke-width="1" stroke-dasharray="3,3"/>
</g>
</svg>
</body></html>
